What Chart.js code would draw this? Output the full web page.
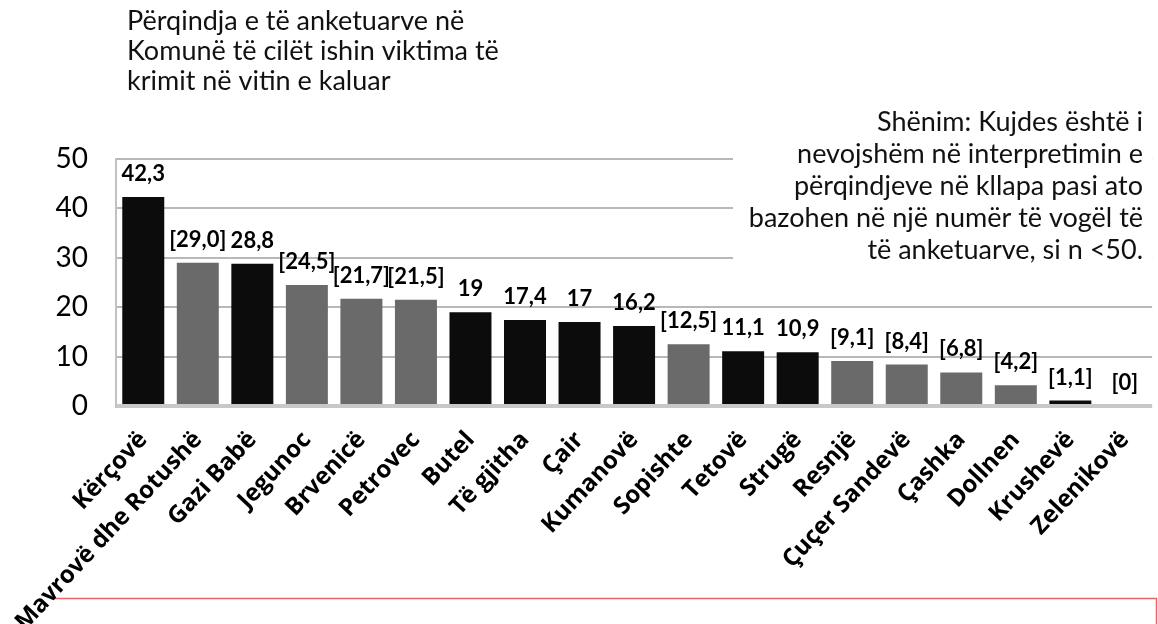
<!DOCTYPE html>
<html>
<head>
<meta charset="utf-8">
<script src="https://cdn.jsdelivr.net/npm/chart.js@4.4.1/dist/chart.umd.min.js"></script>
<style>
  html, body { margin: 0; padding: 0; background: #fff; }
</style>
</head>
<body>
<canvas id="chart" width="1158" height="624"></canvas>
<script>
// komunat dhe vlerat (% e të anketuarve që ishin viktima të krimit)
const komunat = [
  "Kërçovë", "Mavrovë dhe Rotushë", "Gazi Babë", "Jegunoc", "Brvenicë",
  "Petrovec", "Butel", "Të gjitha", "Çair", "Kumanovë", "Sopishte",
  "Tetovë", "Strugë", "Resnjë", "Çuçer Sandevë", "Çashka", "Dollnen",
  "Krushevë", "Zelenikovë"
];
const perqindja = [42.3, 29.0, 28.8, 24.5, 21.7, 21.5, 19, 17.4, 17, 16.2, 12.5, 11.1, 10.9, 9.1, 8.4, 6.8, 4.2, 1.1, 0];
const etiketat = [
  "42,3", "[29,0]", "28,8", "[24,5]", "[21,7]", "[21,5]", "19", "17,4", "17",
  "16,2", "[12,5]", "11,1", "10,9", "[9,1]", "[8,4]", "[6,8]", "[4,2]", "[1,1]", "[0]"
];
// true = shtylla e errët, false = shtylla gri
const eErret = [true, false, true, false, false, false, true, true, true, true, false, true, true, false, false, false, false, true, true];
const yTicks = [0, 10, 20, 30, 40, 50];

const titulli = [
  "Përqindja e të anketuarve në",
  "Komunë të cilët ishin viktima të",
  "krimit në vitin e kaluar"
];
const shenimi = [
  "Shënim: Kujdes është i",
  "nevojshëm në interpretimin e",
  "përqindjeve në kllapa pasi ato",
  "bazohen në një numër të vogël të",
  "të anketuarve, si n <50."
];

const TEXT_FONT = "Lato, 'Open Sans', sans-serif";

// kutia e kuqe poshtë
const kutiaKuqe = {
  id: "kutiaKuqe",
  beforeDraw(chart) {
    const ctx = chart.ctx;
    ctx.save();
    ctx.strokeStyle = "#e8646a";
    ctx.lineWidth = 1.5;
    ctx.beginPath();
    ctx.moveTo(54, 598.5);
    ctx.lineTo(1156.5, 598.5);
    ctx.lineTo(1156.5, 630);
    ctx.stroke();
    ctx.restore();
  }
};

// shënimi me sfond të bardhë mbi vijat e rrjetit
const shenimPlugin = {
  id: "shenim",
  beforeDatasetsDraw(chart) {
    const ctx = chart.ctx;
    ctx.save();
    ctx.fillStyle = "#fff";
    ctx.fillRect(733, 104, 419, 164);
    ctx.fillStyle = "#111";
    ctx.font = "27px " + TEXT_FONT;
    ctx.textAlign = "right";
    ctx.textBaseline = "middle";
    shenimi.forEach((l, i) => ctx.fillText(l, 1143, 122 + i * 32));
    ctx.restore();
  }
};

const vleratPlugin = {
  id: "vlerat",
  afterDatasetsDraw(chart) {
    const ctx = chart.ctx;
    const meta = chart.getDatasetMeta(0);
    ctx.save();
    ctx.fillStyle = "#000";
    ctx.font = "bold 22px " + TEXT_FONT;
    ctx.textAlign = "center";
    ctx.textBaseline = "alphabetic";
    meta.data.forEach((bar, i) => {
      ctx.fillText(etiketat[i], bar.x, bar.y - 16);
    });
    ctx.restore();
  }
};

const titulliPlugin = {
  id: "titulli",
  afterDraw(chart) {
    const ctx = chart.ctx;
    ctx.save();
    ctx.fillStyle = "#111";
    ctx.font = "27px " + TEXT_FONT;
    ctx.textAlign = "left";
    ctx.textBaseline = "middle";
    titulli.forEach((l, i) => ctx.fillText(l, 127, 21 + i * 30));
    ctx.restore();
  }
};

new Chart(document.getElementById("chart"), {
  type: "bar",
  data: {
    labels: komunat,
    datasets: [{
      data: perqindja,
      backgroundColor: eErret.map(d => d ? "#0c0c0c" : "#6a6a6a"),
      borderWidth: 0,
      barPercentage: 0.77,
      categoryPercentage: 1
    }]
  },
  options: {
    responsive: false,
    animation: false,
    layout: { padding: { top: 159, right: 2, left: 0, bottom: 0 } },
    plugins: {
      legend: { display: false },
      title: { display: false },
      tooltip: { enabled: false }
    },
    scales: {
      x: {
        grid: { display: false },
        border: { display: false },
        ticks: {
          autoSkip: false,
          maxRotation: 47,
          minRotation: 47,
          padding: 12,
          color: "#000",
          font: { family: "'Open Sans', sans-serif", size: 24, weight: "bold" }
        },
        afterFit(scale) { scale.height = 218; }
      },
      y: {
        min: 0,
        max: 50,
        afterBuildTicks(scale) { scale.ticks = yTicks.map(v => ({ value: v })); },
        grid: {
          drawTicks: false,
          color: c => c.tick.value === 0 ? "#c8c8c8" : "#b8b8b8",
          lineWidth: c => c.tick.value === 0 ? 4 : 2
        },
        border: { color: "#c2c2c2", width: 2 },
        ticks: {
          padding: 28,
          color: "#000",
          font: { family: TEXT_FONT, size: 28 }
        },
        afterFit(scale) { scale.width = 116; }
      }
    }
  },
  plugins: [kutiaKuqe, shenimPlugin, vleratPlugin, titulliPlugin]
});
</script>
</body>
</html>
